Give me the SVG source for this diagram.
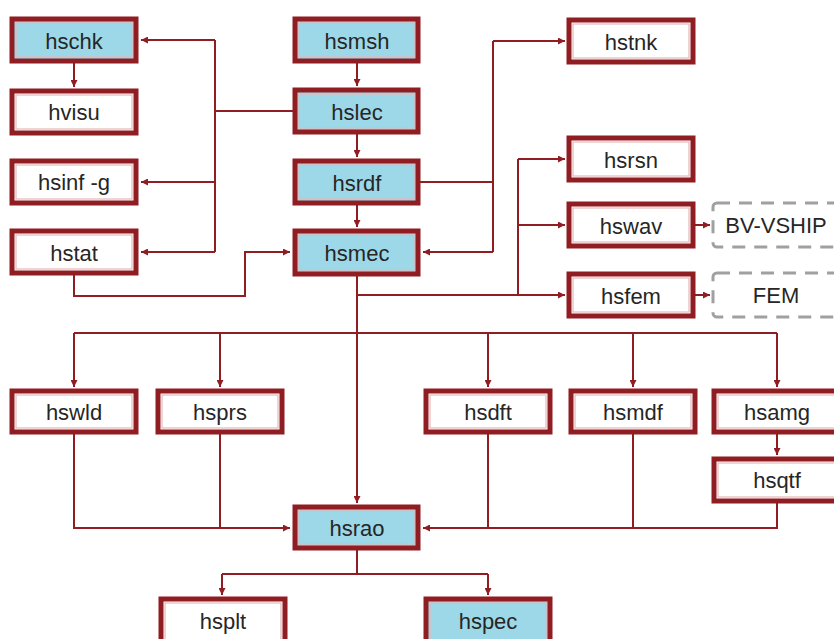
<svg xmlns="http://www.w3.org/2000/svg" width="834" height="639" viewBox="0 0 834 639">
<style>
.box{fill:#ffffff;stroke:#8f1d22;stroke-width:5}
.blue{fill:#9dd8e8}
.inner{fill:none;stroke:#e3b8b8;stroke-width:1.2}
.dash{fill:#ffffff;stroke:#a0a0a0;stroke-width:3;stroke-dasharray:13 9}
.lbl{font-family:"Liberation Sans",Arial,sans-serif;font-size:22px;fill:#262626;text-anchor:middle;dominant-baseline:central}
.con{fill:none;stroke:#8f1d22;stroke-width:2}
</style>
<defs>
<marker id="ah" viewBox="0 0 8 8" refX="8" refY="4" markerWidth="7" markerHeight="7" markerUnits="userSpaceOnUse" orient="auto">
<path d="M0,0 L8,4 L0,8 z" fill="#8f1d22"/>
</marker>
</defs>
<g id="connectors">
<path class="con" d="M74,63 V87" marker-end="url(#ah)"/>
<path class="con" d="M293,111 H215"/>
<path class="con" d="M215,40 V252"/>
<path class="con" d="M215,40 H141" marker-end="url(#ah)"/>
<path class="con" d="M215,182 H141" marker-end="url(#ah)"/>
<path class="con" d="M215,252 H141" marker-end="url(#ah)"/>
<path class="con" d="M74,275 V296 H245 V252 H290" marker-end="url(#ah)"/>
<path class="con" d="M357,63 V86" marker-end="url(#ah)"/>
<path class="con" d="M357,134 V157" marker-end="url(#ah)"/>
<path class="con" d="M357,205 V227" marker-end="url(#ah)"/>
<path class="con" d="M420,182 H493"/>
<path class="con" d="M493,41 V252"/>
<path class="con" d="M493,41 H565" marker-end="url(#ah)"/>
<path class="con" d="M493,252 H423" marker-end="url(#ah)"/>
<path class="con" d="M357,295 H565" marker-end="url(#ah)"/>
<path class="con" d="M518,159 V295"/>
<path class="con" d="M518,159 H565" marker-end="url(#ah)"/>
<path class="con" d="M518,225 H565" marker-end="url(#ah)"/>
<path class="con" d="M695,225 H710" marker-end="url(#ah)"/>
<path class="con" d="M695,295 H710" marker-end="url(#ah)"/>
<path class="con" d="M357,276 V503" marker-end="url(#ah)"/>
<path class="con" d="M74,333 H777"/>
<path class="con" d="M74,333 V387" marker-end="url(#ah)"/>
<path class="con" d="M220,333 V387" marker-end="url(#ah)"/>
<path class="con" d="M488,333 V387" marker-end="url(#ah)"/>
<path class="con" d="M633,333 V387" marker-end="url(#ah)"/>
<path class="con" d="M777,333 V387" marker-end="url(#ah)"/>
<path class="con" d="M777,434 V455" marker-end="url(#ah)"/>
<path class="con" d="M74,434 V528 H290" marker-end="url(#ah)"/>
<path class="con" d="M220,434 V528"/>
<path class="con" d="M777,503 V528 H423" marker-end="url(#ah)"/>
<path class="con" d="M488,434 V528"/>
<path class="con" d="M633,434 V528"/>
<path class="con" d="M357,550 V574"/>
<path class="con" d="M222,574 H488"/>
<path class="con" d="M222,574 V595" marker-end="url(#ah)"/>
<path class="con" d="M488,574 V595" marker-end="url(#ah)"/>
</g>
<g id="hschk"><rect class="box blue" x="12" y="19" width="124" height="42"/><rect class="inner" x="16" y="23" width="116" height="34"/><text class="lbl" x="74" y="41">hschk</text></g>
<g id="hvisu"><rect class="box" x="12" y="91" width="124" height="42"/><rect class="inner" x="16" y="95" width="116" height="34"/><text class="lbl" x="74" y="112">hvisu</text></g>
<g id="hsinf"><rect class="box" x="12" y="161" width="124" height="42"/><rect class="inner" x="16" y="165" width="116" height="34"/><text class="lbl" x="74" y="182">hsinf -g</text></g>
<g id="hstat"><rect class="box" x="12" y="231" width="124" height="42"/><rect class="inner" x="16" y="235" width="116" height="34"/><text class="lbl" x="74" y="253">hstat</text></g>
<g id="hsmsh"><rect class="box blue" x="295" y="19" width="123" height="42"/><rect class="inner" x="299" y="23" width="115" height="34"/><text class="lbl" x="357" y="41">hsmsh</text></g>
<g id="hslec"><rect class="box blue" x="295" y="90" width="123" height="42"/><rect class="inner" x="299" y="94" width="115" height="34"/><text class="lbl" x="357" y="112">hslec</text></g>
<g id="hsrdf"><rect class="box blue" x="295" y="161" width="123" height="42"/><rect class="inner" x="299" y="165" width="115" height="34"/><text class="lbl" x="357" y="183">hsrdf</text></g>
<g id="hsmec"><rect class="box blue" x="295" y="231" width="123" height="43"/><rect class="inner" x="299" y="235" width="115" height="35"/><text class="lbl" x="357" y="253">hsmec</text></g>
<g id="hstnk"><rect class="box" x="569" y="20" width="124" height="42"/><rect class="inner" x="573" y="24" width="116" height="34"/><text class="lbl" x="631" y="42">hstnk</text></g>
<g id="hsrsn"><rect class="box" x="569" y="138" width="124" height="42"/><rect class="inner" x="573" y="142" width="116" height="34"/><text class="lbl" x="631" y="160">hsrsn</text></g>
<g id="hswav"><rect class="box" x="569" y="204" width="124" height="42"/><rect class="inner" x="573" y="208" width="116" height="34"/><text class="lbl" x="631" y="226">hswav</text></g>
<g id="hsfem"><rect class="box" x="569" y="274" width="124" height="42"/><rect class="inner" x="573" y="278" width="116" height="34"/><text class="lbl" x="631" y="296">hsfem</text></g>
<g id="bvvship"><rect class="dash" x="713" y="203" width="130" height="44" rx="4"/><text class="lbl" x="776" y="225">BV-VSHIP</text></g>
<g id="fem"><rect class="dash" x="713" y="273" width="130" height="44" rx="4"/><text class="lbl" x="776" y="295">FEM</text></g>
<g id="hswld"><rect class="box" x="12" y="391" width="124" height="41"/><rect class="inner" x="16" y="395" width="116" height="33"/><text class="lbl" x="74" y="412">hswld</text></g>
<g id="hsprs"><rect class="box" x="158" y="391" width="124" height="41"/><rect class="inner" x="162" y="395" width="116" height="33"/><text class="lbl" x="220" y="412">hsprs</text></g>
<g id="hsdft"><rect class="box" x="426" y="391" width="124" height="41"/><rect class="inner" x="430" y="395" width="116" height="33"/><text class="lbl" x="488" y="412">hsdft</text></g>
<g id="hsmdf"><rect class="box" x="571" y="391" width="124" height="41"/><rect class="inner" x="575" y="395" width="116" height="33"/><text class="lbl" x="633" y="412">hsmdf</text></g>
<g id="hsamg"><rect class="box" x="714" y="391" width="130" height="41"/><rect class="inner" x="718" y="395" width="122" height="33"/><text class="lbl" x="777" y="412">hsamg</text></g>
<g id="hsqtf"><rect class="box" x="714" y="459" width="130" height="42"/><rect class="inner" x="718" y="463" width="122" height="34"/><text class="lbl" x="777" y="480">hsqtf</text></g>
<g id="hsrao"><rect class="box blue" x="295" y="507" width="123" height="41"/><rect class="inner" x="299" y="511" width="115" height="33"/><text class="lbl" x="357" y="528">hsrao</text></g>
<g id="hsplt"><rect class="box" x="161" y="599" width="124" height="50"/><rect class="inner" x="165" y="603" width="116" height="42"/><text class="lbl" x="223" y="621">hsplt</text></g>
<g id="hspec"><rect class="box blue" x="426" y="599" width="124" height="50"/><rect class="inner" x="430" y="603" width="116" height="42"/><text class="lbl" x="488" y="621">hspec</text></g>
</svg>
